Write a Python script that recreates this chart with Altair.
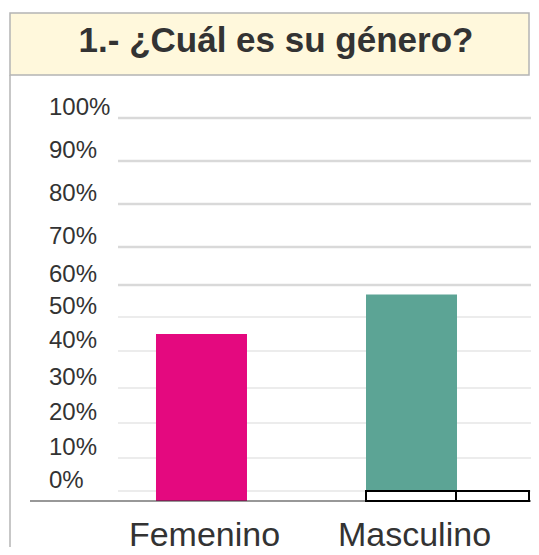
import altair as alt
import pandas as pd

# ---- data ----
categories = ["Femenino", "Masculino"]
shares = [0.45, 0.57]
bar_colors = ["#e4097f", "#5ca495"]
tick_values = [0.0, 0.1, 0.2, 0.3, 0.4, 0.5, 0.6, 0.7, 0.8, 0.9, 1.0]
tick_labels = ["0%", "10%", "20%", "30%", "40%", "50%", "60%", "70%", "80%", "90%", "100%"]
title_text = "1.- ¿Cuál es su género?"

# ---- layout / style ----
W, H = 501, 421
FONT = "Liberation Sans"
TXT = "#333333"
BASE = -0.03  # bars start slightly below the 0% line, on the axis line
# the original's gridlines are unevenly spaced: piecewise linear y scale
y_domain = [BASE] + tick_values
y_range = [421, 411, 378, 343, 308, 271, 237, 205, 167, 124, 81, 38]

yscale = alt.Scale(domain=y_domain, range=y_range, nice=False, zero=False)
xscale = alt.Scale(domain=categories, range=[66.5, 486.5],
                   paddingInner=0.5667, paddingOuter=0.2833)

df = pd.DataFrame({"cat": categories, "value": shares})
ticks_df = pd.DataFrame({"v": tick_values, "label": tick_labels})
one = pd.DataFrame({"k": [0]})

title_box = alt.Chart(one).mark_rect(
    fill="#fff8dc", stroke="#b4b4b4", strokeWidth=1.5
).encode(x=alt.value(-20), x2=alt.value(499), y=alt.value(-67), y2=alt.value(-5))

left_border = alt.Chart(one).mark_rule(color="#b4b4b4", strokeWidth=1.5).encode(
    x=alt.value(-20), y=alt.value(-5), y2=alt.value(480)
)

title = alt.Chart(one).mark_text(
    text=title_text, fontSize=35, fontWeight="bold", font=FONT, color=TXT,
    align="center", baseline="alphabetic"
).encode(x=alt.value(246), y=alt.value(-28))

grid = alt.Chart(ticks_df).mark_rule(color="#d9d9d9").encode(
    y=alt.Y("v:Q", scale=yscale, axis=None),
    x=alt.value(88), x2=alt.value(504),
    strokeWidth=alt.condition("datum.v >= 0.6", alt.value(2.5), alt.value(1)),
)

ylabels = alt.Chart(ticks_df).mark_text(
    fontSize=24, font=FONT, color=TXT, align="left", baseline="alphabetic", dy=-3
).encode(
    y=alt.Y("v:Q", scale=yscale, axis=None),
    x=alt.value(19),
    text="label:N",
)

bars = alt.Chart(df).mark_bar().encode(
    x=alt.X("cat:N", scale=xscale, sort=categories,
            axis=alt.Axis(title=None, labelFontSize=34, labelFont=FONT,
                          labelColor=TXT, labelBaseline="alphabetic",
                          labelPadding=44, ticks=False, tickSize=0,
                          domain=False, labelOffset=3, labelAngle=0)),
    y=alt.Y("value:Q", scale=yscale, axis=None),
    y2=alt.datum(BASE),
    color=alt.Color("cat:N", scale=alt.Scale(domain=categories, range=bar_colors),
                    legend=None),
)

axis_line = alt.Chart(one).mark_rule(color="#333333", strokeWidth=1.2).encode(
    x=alt.value(0), x2=alt.value(W), y=alt.value(H)
)

box1 = alt.Chart(one).mark_rect(fill="white", stroke="black", strokeWidth=2).encode(
    x=alt.value(336), x2=alt.value(426),
    y=alt.YDatum(0.0, axis=None), y2=alt.datum(BASE),
)
box2 = alt.Chart(one).mark_rect(fill="white", stroke="black", strokeWidth=2).encode(
    x=alt.value(426), x2=alt.value(499),
    y=alt.YDatum(0.0, axis=None), y2=alt.datum(BASE),
)

chart = alt.layer(
    title_box, left_border, title, grid, ylabels, bars, axis_line, box1, box2
).properties(
    width=W, height=H,
    autosize=alt.AutoSizeParams(type="none"),
    padding={"left": 22, "right": 0, "top": 72, "bottom": 46},
).configure_view(stroke=None)

chart.save("out.html", embed_options={"renderer": "svg", "actions": False})
